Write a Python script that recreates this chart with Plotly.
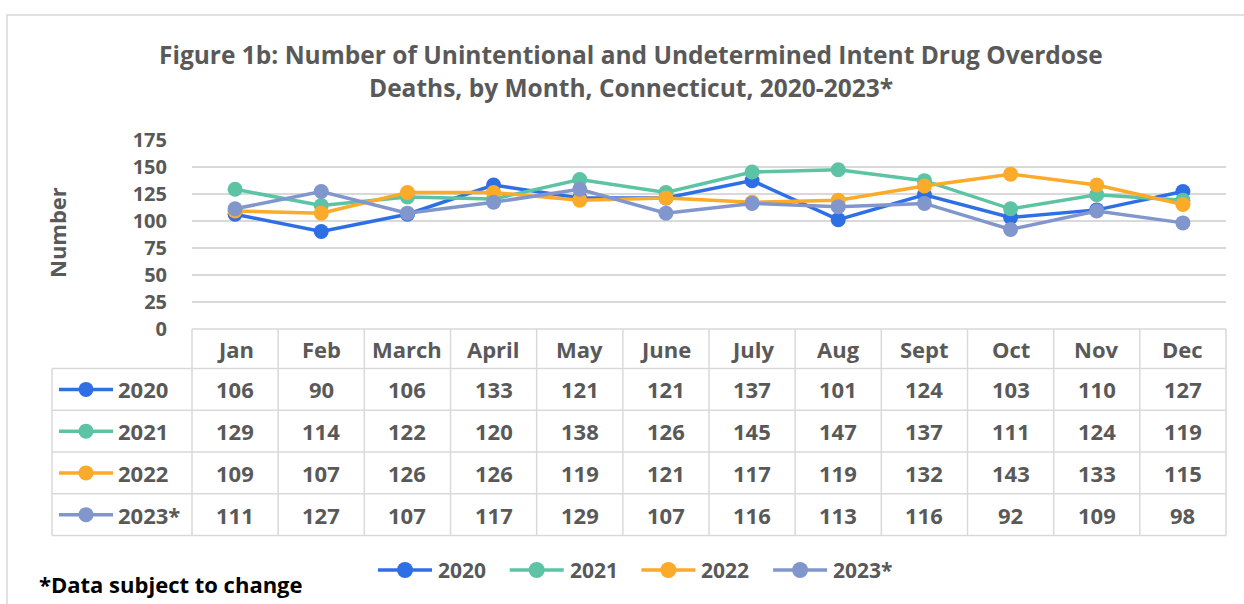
import plotly.graph_objects as go

# ---------------- data ----------------
months = ["Jan", "Feb", "March", "April", "May", "June", "July", "Aug", "Sept", "Oct", "Nov", "Dec"]
series_names = ["2020", "2021", "2022", "2023*"]
deaths_2020 = [106, 90, 106, 133, 121, 121, 137, 101, 124, 103, 110, 127]
deaths_2021 = [129, 114, 122, 120, 138, 126, 145, 147, 137, 111, 124, 119]
deaths_2022 = [109, 107, 126, 126, 119, 121, 117, 119, 132, 143, 133, 115]
deaths_2023 = [111, 127, 107, 117, 129, 107, 116, 113, 116, 92, 109, 98]
series_values = [deaths_2020, deaths_2021, deaths_2022, deaths_2023]
y_ticks = [0, 25, 50, 75, 100, 125, 150, 175]

colors = ["#2F6FE6", "#5CC4A4", "#FBAA2A", "#8196CC"]
GRAY = "#595959"
GRID = "#D9D9D9"
FONT = "Open Sans"

W, H = 1244, 604


def px(x):
    return x / W


def py(y):
    return 1 - y / H


# layout geometry (pixels)
PL, PR = 192, 1226           # plot area left/right
PT, PB = 139.5, 329          # y=175 and y=0
COLW = (PR - PL) / len(months)
HEAD_B = 368.5
ROW_H = (535.5 - HEAD_B) / len(series_names)
LAB_L = 52

fig = go.Figure()

for name, vals, col in zip(series_names, series_values, colors):
    fig.add_trace(go.Scatter(
        x=months, y=vals, name=name, mode="lines+markers",
        line=dict(color=col, width=3.5),
        marker=dict(color=col, size=15),
        cliponaxis=False, showlegend=False,
    ))

shapes = []
annotations = []

# outer chart border
shapes.append(dict(type="rect", xref="paper", yref="paper",
                   x0=px(7), x1=px(1260), y0=py(15), y1=py(620),
                   line=dict(color=GRID, width=1.5)))

# table lines
tline = dict(color=GRID, width=1.5)
shapes.append(dict(type="line", xref="paper", yref="paper", x0=px(PL), x1=px(PR), y0=py(PB), y1=py(PB), line=tline))
for k in range(len(series_names) + 1):
    yy = HEAD_B + k * ROW_H
    shapes.append(dict(type="line", xref="paper", yref="paper", x0=px(LAB_L), x1=px(PR),
                       y0=py(yy), y1=py(yy), line=tline))
shapes.append(dict(type="line", xref="paper", yref="paper", x0=px(LAB_L), x1=px(LAB_L),
                   y0=py(HEAD_B), y1=py(HEAD_B + len(series_names) * ROW_H), line=tline))
for i in range(len(months) + 1):
    xx = PL + i * COLW
    shapes.append(dict(type="line", xref="paper", yref="paper", x0=px(xx), x1=px(xx),
                       y0=py(PB), y1=py(HEAD_B + len(series_names) * ROW_H), line=tline))

cell_font = dict(family=FONT, size=22, color=GRAY)

# header row
for i, m in enumerate(months):
    annotations.append(dict(x=px(PL + (i + 0.5) * COLW), y=py((PB + HEAD_B) / 2),
                            xref="paper", yref="paper", text=f"<b>{m}</b>",
                            showarrow=False, font=cell_font, xanchor="center", yanchor="middle"))


def icon(cx, cy, col, half=27, r=7.5):
    shapes.append(dict(type="line", xref="paper", yref="paper",
                       x0=px(cx - half), x1=px(cx + half), y0=py(cy), y1=py(cy),
                       line=dict(color=col, width=3.5)))
    shapes.append(dict(type="circle", xref="paper", yref="paper",
                       xsizemode="pixel", ysizemode="pixel",
                       xanchor=px(cx), yanchor=py(cy),
                       x0=-r, x1=r, y0=-r, y1=r,
                       fillcolor=col, line=dict(color=col, width=0)))


# data rows
for k, (name, vals, col) in enumerate(zip(series_names, series_values, colors)):
    cy = HEAD_B + (k + 0.5) * ROW_H
    icon(86, cy, col)
    annotations.append(dict(x=px(116), y=py(cy), xref="paper", yref="paper",
                            text=f"<b>{name}</b>", showarrow=False, font=cell_font,
                            xanchor="left", yanchor="middle"))
    for i, v in enumerate(vals):
        annotations.append(dict(x=px(PL + (i + 0.5) * COLW), y=py(cy), xref="paper", yref="paper",
                                text=f"<b>{v}</b>", showarrow=False, font=cell_font,
                                xanchor="center", yanchor="middle"))

# bottom legend
LEG_Y = 570
LEG_X0 = 378
LEG_STEP = 131.7
for j, (name, col) in enumerate(zip(series_names, colors)):
    x0 = LEG_X0 + j * LEG_STEP
    icon(x0 + 27, LEG_Y, col, half=27, r=8)
    annotations.append(dict(x=px(x0 + 58), y=py(LEG_Y), xref="paper", yref="paper",
                            text=f"<b>{name}</b>", showarrow=False,
                            font=dict(family=FONT, size=21, color=GRAY),
                            xanchor="left", yanchor="middle"))

# title
title_font = dict(family=FONT, size=24.5, color=GRAY)
annotations.append(dict(x=px(631), y=py(55), xref="paper", yref="paper",
                        text="<b>Figure 1b: Number of Unintentional and Undetermined Intent Drug Overdose</b>",
                        showarrow=False, font=title_font, xanchor="center", yanchor="middle"))
annotations.append(dict(x=px(631), y=py(87), xref="paper", yref="paper",
                        text="<b>Deaths, by Month, Connecticut, 2020-2023*</b>",
                        showarrow=False, font=title_font, xanchor="center", yanchor="middle"))

# y axis title
annotations.append(dict(x=px(57), y=py(233), xref="paper", yref="paper",
                        text="<b>Number</b>", textangle=-90, showarrow=False,
                        font=dict(family=FONT, size=22, color=GRAY),
                        xanchor="center", yanchor="middle"))

# footnote
annotations.append(dict(x=px(37), y=py(584), xref="paper", yref="paper",
                        text="<b>*Data subject to change</b>", showarrow=False,
                        font=dict(family=FONT, size=22, color="#000000"),
                        xanchor="left", yanchor="middle"))

fig.update_layout(
    width=W, height=H,
    autosize=False,
    margin=dict(l=0, r=0, t=0, b=0, pad=0),
    paper_bgcolor="white", plot_bgcolor="white",
    showlegend=False,
    shapes=shapes,
    annotations=annotations,
    xaxis=dict(domain=[px(PL), px(PR)], type="category", range=[-0.5, 11.5], automargin=False,
               showticklabels=False, showgrid=False, zeroline=False, showline=False, ticks=""),
    yaxis=dict(domain=[py(PB), py(PT)], range=[0, 175], tickvals=y_ticks, automargin=False,
               ticktext=[f"<b>{t}</b>" for t in y_ticks],
               showgrid=True, gridcolor=GRID, gridwidth=1.5, zeroline=False, showline=False,
               ticks="", ticklabelstandoff=24,
               tickfont=dict(family=FONT, size=20, color=GRAY)),
)

fig.write_html(
    "out.html",
    config={"displayModeBar": False},
    post_script="document.body.style.margin='0';document.body.style.overflow='hidden';",
)
